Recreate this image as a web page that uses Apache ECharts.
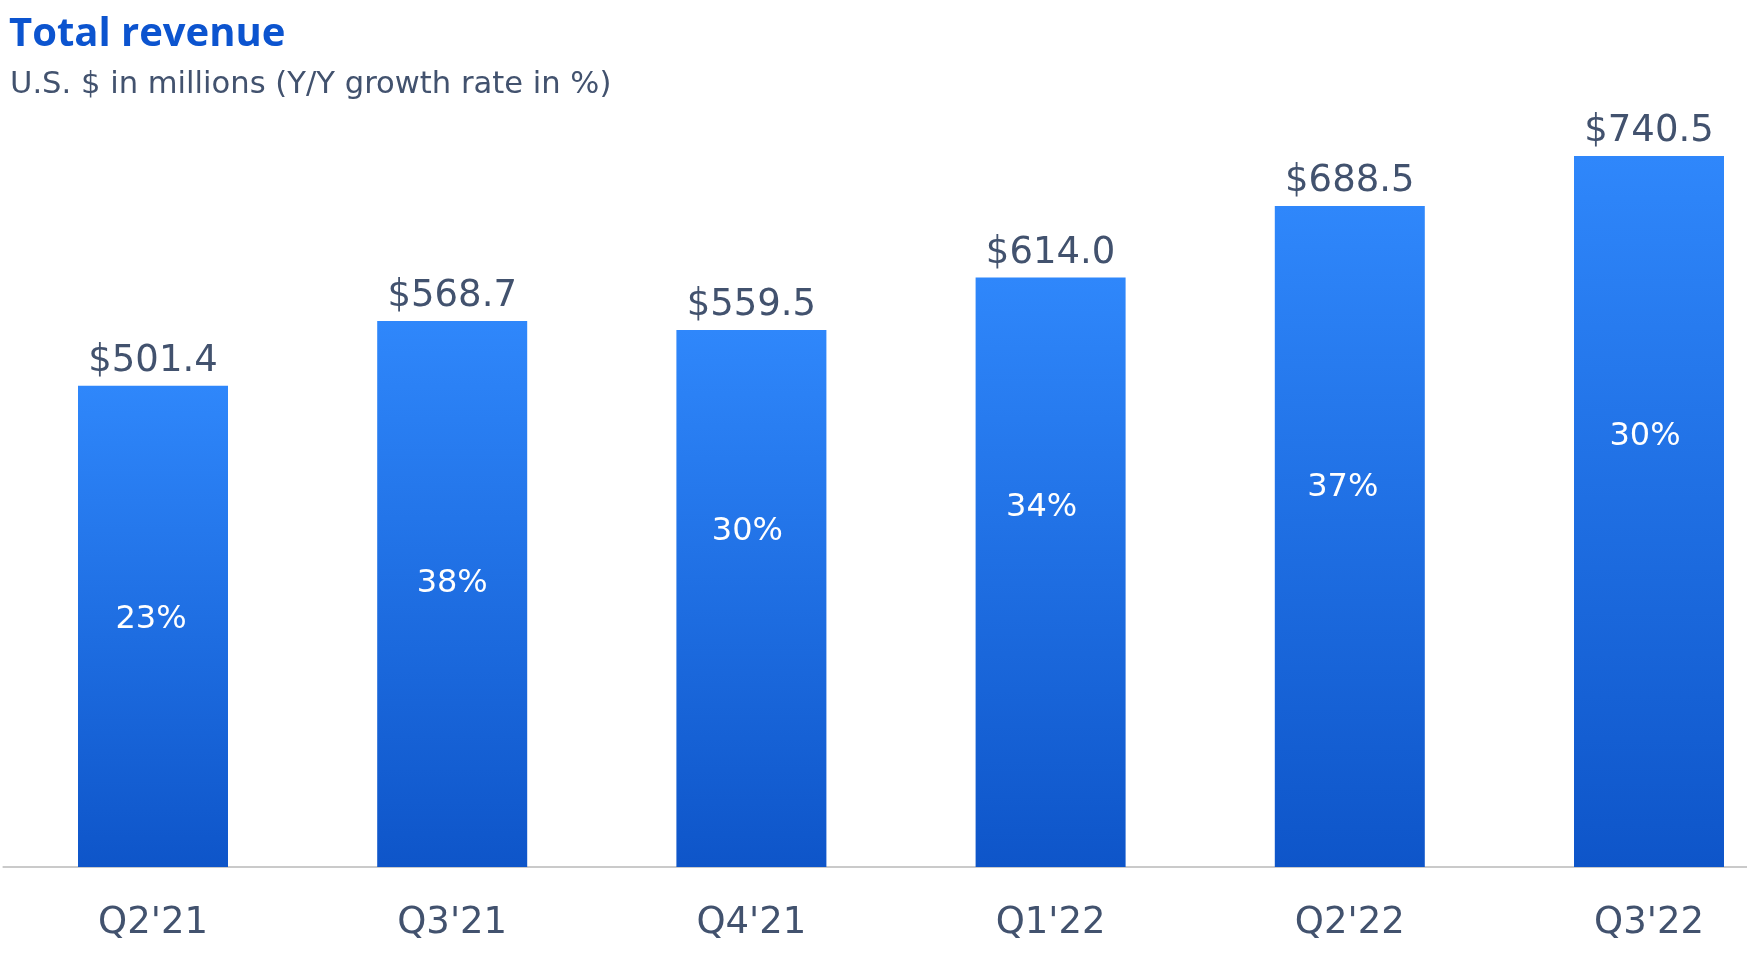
<!DOCTYPE html>
<html>
<head>
<meta charset="utf-8">
<script src="https://cdn.jsdelivr.net/npm/echarts@6/dist/echarts.min.js"></script>
<style>
html,body{margin:0;padding:0;background:#fff;overflow:hidden;width:1747px;height:971px;}
#chart{width:1800px;height:971px;}
</style>
</head>
<body>
<div id="chart"></div>
<script>
// ---- data ----
const categories = ["Q2'21", "Q3'21", "Q4'21", "Q1'22", "Q2'22", "Q3'22"];
const revenue = [501.4, 568.7, 559.5, 614.0, 688.5, 740.5];
const growthPct = [23, 38, 30, 34, 37, 30];
const titleText = 'Total revenue';
const subtitleText = 'U.S. $ in millions (Y/Y growth rate in %)';

// ---- layout (label placement inside bars, px from bar top / horizontal nudge) ----
const pctLabelDist = [234, 263, 202, 230, 282, 281];
const pctLabelDx = [-2, 0, -4, -9, -7, -4];

const FONT = '"DejaVu Sans", sans-serif';
const TITLE_FONT = '"Open Sans", Lato, sans-serif';
const TEXT = '#42526E';

const chart = echarts.init(document.getElementById('chart'), null, {renderer: 'canvas'});

const barGradient = new echarts.graphic.LinearGradient(0, 0, 0, 1, [
  {offset: 0, color: '#2F87FB'},
  {offset: 1, color: '#0E55C9'}
]);

const option = {
  animation: false,
  backgroundColor: '#ffffff',
  title: [
    {
      text: titleText, left: 4, top: 10,
      textStyle: {fontFamily: TITLE_FONT, fontSize: 40, fontWeight: 'bold', color: '#0C54CF', lineHeight: 40}
    },
    {
      text: subtitleText, left: 5, top: 65,
      textStyle: {fontFamily: FONT, fontSize: 30.6, fontWeight: 'normal', color: TEXT, lineHeight: 30}
    }
  ],
  grid: {left: 3.4, right: 1.4, top: 99, bottom: 104, containLabel: false},
  xAxis: {
    type: 'category',
    data: categories,
    boundaryGap: true,
    axisLine: {show: true, lineStyle: {color: '#CACACA', width: 2}},
    axisTick: {show: false},
    axisLabel: {fontFamily: FONT, fontSize: 37, color: TEXT, margin: 37, lineHeight: 38}
  },
  yAxis: {
    type: 'value', min: 0, max: 800,
    show: false,
    splitLine: {show: false}
  },
  series: [
    {
      type: 'bar',
      barWidth: 150,
      data: revenue.map(v => ({value: v})),
      itemStyle: {color: barGradient},
      label: {
        show: true, position: 'top', distance: 6,
        fontFamily: FONT, fontSize: 37, color: TEXT,
        formatter: p => '$' + p.value.toFixed(1)
      },
      z: 2
    },
    {
      type: 'bar',
      barWidth: 150,
      barGap: '-100%',
      data: revenue.map((v, i) => ({
        value: v,
        label: {position: ['50%', pctLabelDist[i]], offset: [pctLabelDx[i], 0]}
      })),
      itemStyle: {color: 'rgba(0,0,0,0)'},
      label: {
        show: true,
        align: 'center', verticalAlign: 'middle',
        fontFamily: FONT, fontSize: 32, fontWeight: 'normal', color: '#ffffff',
        formatter: p => growthPct[p.dataIndex] + '%'
      },
      silent: true,
      z: 3
    }
  ]
};
chart.setOption(option);
</script>
</body>
</html>
